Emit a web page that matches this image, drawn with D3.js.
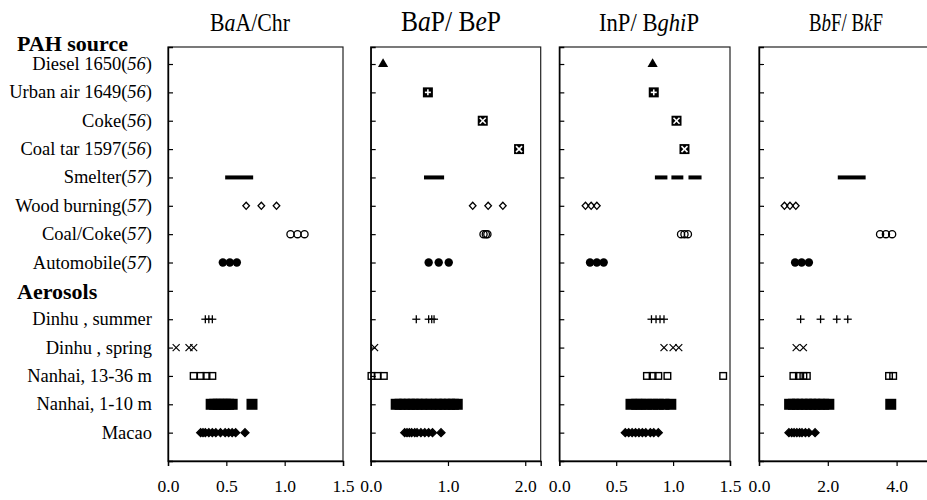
<!DOCTYPE html>
<html>
<head>
<meta charset="utf-8">
<script src="https://cdn.jsdelivr.net/npm/d3@7"></script>
<style>
  body { margin: 0; background: #fff; }
  text { font-family: "Liberation Serif", "Times New Roman", serif; fill: #000; }
</style>
</head>
<body>
<div id="chart"></div>
<script>
// row labels (top to bottom), [name, reference]
const sourceRows = [
  ["Diesel 1650", "56"], ["Urban air 1649", "56"], ["Coke", "56"], ["Coal tar 1597", "56"],
  ["Smelter", "57"], ["Wood burning", "57"], ["Coal/Coke", "57"], ["Automobile", "57"]
];
const aerosolRows = ["Dinhu , summer", "Dinhu , spring", "Nanhai, 13-36 m", "Nanhai, 1-10 m", "Macao"];

// panel titles, [text, italic?] pieces
const titles = [
  [["B", 0], ["a", 1], ["A/Chr", 0]],
  [["B", 0], ["a", 1], ["P/ B", 0], ["e", 1], ["P", 0]],
  [["InP/ B", 0], ["ghi", 1], ["P", 0]],
  [["B", 0], ["b", 1], ["F/ B", 0], ["k", 1], ["F", 0]]
];
const xDomains = [[0, 1.5], [0, 2.2], [0, 1.5], [0, 5]];
const xTicks = [[0, 0.5, 1, 1.5], [0, 1, 2], [0, 0.5, 1, 1.5], [0, 2, 4]];

// ratio values, one list per panel
const diesel = [[], [0.16], [0.82], []];
const urbanAir = [[], [0.74], [0.83], []];
const coke = [[], [1.45], [1.03], []];
const coalTar = [[], [1.92], [1.1], []];
const smelter = [[[0.49, 0.73]], [[0.69, 0.95]], [[0.84, 0.95], [0.985, 1.09], [1.135, 1.25]], [[2.29, 3.1]]];
const woodBurning = [[0.67, 0.8, 0.93], [1.32, 1.52, 1.71], [0.23, 0.28, 0.33], [0.74, 0.9, 1.07]];
const coalCoke = [[1.05, 1.11, 1.17], [1.46, 1.49, 1.51], [1.07, 1.1, 1.13], [3.52, 3.69, 3.87]];
const automobile = [[0.47, 0.53, 0.59], [0.75, 0.88, 1.01], [0.27, 0.33, 0.39], [1.05, 1.24, 1.45]];
const dinhuSummer = [[0.32, 0.35, 0.38], [0.59, 0.75, 0.79, 0.82], [0.81, 0.85, 0.885, 0.92], [1.21, 1.79, 2.26, 2.58]];
const dinhuSpring = [[0.07, 0.18, 0.22], [0.05], [0.92, 1.0, 1.05], [1.08, 1.29]];
const nanhaiDeep = [[0.22, 0.28, 0.33, 0.38], [0.01, 0.09, 0.17], [0.77, 0.82, 0.87, 0.95, 1.44], [1.0, 1.16, 1.29, 1.39, 3.78, 3.9]];
const nanhaiShallow = [
  [0.37, 0.4, 0.43, 0.46, 0.49, 0.52, 0.55, 0.72],
  [0.33, 0.38, 0.44, 0.5, 0.55, 0.6, 0.66, 0.72, 0.78, 0.85, 0.9, 0.96, 1.02, 1.07, 1.12],
  [0.63, 0.68, 0.72, 0.77, 0.82, 0.87, 0.92, 0.98],
  [0.89, 1.0, 1.12, 1.25, 1.38, 1.5, 1.62, 1.75, 1.88, 2.03, 3.83]
];
const macao = [
  [0.28, 0.3, 0.32, 0.35, 0.38, 0.41, 0.45, 0.49, 0.52, 0.55, 0.58, 0.66],
  [0.44, 0.47, 0.5, 0.53, 0.57, 0.6, 0.65, 0.7, 0.75, 0.8, 0.91],
  [0.58, 0.61, 0.64, 0.67, 0.7, 0.73, 0.76, 0.8, 0.83, 0.87],
  [0.87, 0.95, 1.02, 1.1, 1.18, 1.25, 1.35, 1.45, 1.63]
];

const series = [
  { row: 0, values: diesel, shape: "triangle" },
  { row: 1, values: urbanAir, shape: "boxPlus" },
  { row: 2, values: coke, shape: "boxCross" },
  { row: 3, values: coalTar, shape: "boxCross" },
  { row: 4, values: smelter, shape: "bar" },
  { row: 5, values: woodBurning, shape: "diamondOpen" },
  { row: 6, values: coalCoke, shape: "circleOpen" },
  { row: 7, values: automobile, shape: "circleFilled" },
  { row: 9, values: dinhuSummer, shape: "plus" },
  { row: 10, values: dinhuSpring, shape: "cross" },
  { row: 11, values: nanhaiDeep, shape: "squareOpen" },
  { row: 12, values: nanhaiShallow, shape: "squareFilled" },
  { row: 13, values: macao, shape: "diamondFilled" }
];

const width = 927, height = 500;
const panelX = [[168, 343], [370.7, 540.7], [559.3, 730], [759, 931]];
const titleCenters = [250, 451, 649, 846];
const titleWidths = [80, 100, 100, 74];
const titleSizes = [26, 29, 26, 25];
const plotTop = 47, plotBottom = 461;

const svg = d3.select("#chart").append("svg")
  .attr("width", width)
  .attr("height", height);

const y = d3.scaleLinear().domain([-0.6, 14]).range([plotTop, plotBottom]);

// row labels
const rowLabels = svg.append("g").attr("font-size", 18.5).attr("text-anchor", "end");
sourceRows.forEach((d, i) => {
  const t = rowLabels.append("text").attr("x", 152).attr("y", y(i) + 6);
  t.append("tspan").text(d[0] + "(");
  t.append("tspan").attr("font-style", "italic").text(d[1]);
  t.append("tspan").text(")");
});
aerosolRows.forEach((d, i) => {
  rowLabels.append("text").attr("x", 152).attr("y", y(i + 9) + 6).text(d);
});
svg.append("text").attr("x", 17).attr("y", y(-0.75) + 8)
  .attr("font-size", 22).attr("font-weight", "bold").text("PAH source");
svg.append("text").attr("x", 17).attr("y", y(8) + 8)
  .attr("font-size", 22).attr("font-weight", "bold").text("Aerosols");

function drawMark(g, shape, cx, cy) {
  if (shape === "triangle") {
    g.append("path").attr("transform", `translate(${cx},${cy})`)
      .attr("d", d3.symbol(d3.symbolTriangle, 45)());
  } else if (shape === "boxPlus" || shape === "boxCross") {
    g.append("rect").attr("x", cx - 5).attr("y", cy - 5).attr("width", 10).attr("height", 10);
    const s = shape === "boxPlus" ? [[-3, 0, 3, 0], [0, -3, 0, 3]] : [[-3, -3, 3, 3], [-3, 3, 3, -3]];
    s.forEach(l => g.append("line")
      .attr("x1", cx + l[0]).attr("y1", cy + l[1]).attr("x2", cx + l[2]).attr("y2", cy + l[3])
      .attr("stroke", "#fff").attr("stroke-width", 1.6));
  } else if (shape === "diamondOpen" || shape === "diamondFilled") {
    const w = shape === "diamondOpen" ? 3.3 : 4, h = shape === "diamondOpen" ? 3.6 : 4;
    g.append("path")
      .attr("d", `M${cx},${cy - h}L${cx + w},${cy}L${cx},${cy + h}L${cx - w},${cy}Z`)
      .attr("fill", shape === "diamondOpen" ? "none" : "#000")
      .attr("stroke", "#000").attr("stroke-width", 1.3);
  } else if (shape === "circleOpen") {
    g.append("circle").attr("cx", cx).attr("cy", cy).attr("r", 3.6)
      .attr("fill", "none").attr("stroke", "#000").attr("stroke-width", 1.3);
  } else if (shape === "circleFilled") {
    g.append("circle").attr("cx", cx).attr("cy", cy).attr("r", 4.2);
  } else if (shape === "plus") {
    [[-4, 0, 4, 0], [0, -4, 0, 4]].forEach(l => g.append("line")
      .attr("x1", cx + l[0]).attr("y1", cy + l[1]).attr("x2", cx + l[2]).attr("y2", cy + l[3])
      .attr("stroke", "#000").attr("stroke-width", 1.3));
  } else if (shape === "cross") {
    [[-3.5, -3.5, 3.5, 3.5], [-3.5, 3.5, 3.5, -3.5]].forEach(l => g.append("line")
      .attr("x1", cx + l[0]).attr("y1", cy + l[1]).attr("x2", cx + l[2]).attr("y2", cy + l[3])
      .attr("stroke", "#000").attr("stroke-width", 1.2));
  } else if (shape === "squareOpen") {
    g.append("rect").attr("x", cx - 3.3).attr("y", cy - 3.3).attr("width", 6.6).attr("height", 6.6)
      .attr("fill", "none").attr("stroke", "#000").attr("stroke-width", 1.4);
  } else if (shape === "squareFilled") {
    g.append("rect").attr("x", cx - 5.5).attr("y", cy - 5.5).attr("width", 11).attr("height", 11);
  }
}

titles.forEach((title, p) => {
  const x = d3.scaleLinear().domain(xDomains[p]).range(panelX[p]);
  const g = svg.append("g");

  // frame
  g.append("rect")
    .attr("x", x.range()[0]).attr("y", plotTop)
    .attr("width", x.range()[1] - x.range()[0]).attr("height", plotBottom - plotTop)
    .attr("fill", "none").attr("stroke", "#222").attr("stroke-width", 1.2);

  // x axis
  const xAxis = g.append("g").attr("transform", `translate(0,${plotBottom})`)
    .call(d3.axisBottom(x).tickValues(xTicks[p]).tickFormat(d3.format(".1f")).tickSize(5).tickPadding(14));
  xAxis.select(".domain").attr("stroke-width", 1.4);
  xAxis.selectAll(".tick line").attr("stroke-width", 1.2);
  xAxis.selectAll("text").attr("font-family", "Liberation Serif").attr("font-size", 17.5);

  // y axis ticks, inward
  const yAxis = g.append("g").attr("transform", `translate(${x.range()[0]},0)`)
    .call(d3.axisLeft(y).tickValues(d3.range(14)).tickSize(-5).tickFormat(""));
  yAxis.select(".domain").attr("stroke-width", 1.4);
  yAxis.selectAll(".tick line").attr("stroke-width", 1.2);

  // title, squeezed horizontally like the original
  const t = svg.append("text")
    .attr("text-anchor", "middle")
    .attr("font-size", titleSizes[p]);
  title.forEach(s => t.append("tspan").attr("font-style", s[1] ? "italic" : "normal").text(s[0]));
  const natural = t.node().getComputedTextLength();
  t.attr("transform", `translate(${titleCenters[p]},31) scale(${titleWidths[p] / natural},1)`);

  // marks
  const marks = g.append("g").attr("fill", "#000");
  series.forEach(s => {
    const cy = y(s.row);
    s.values[p].forEach(v => {
      if (s.shape === "bar") {
        marks.append("line")
          .attr("x1", x(v[0])).attr("x2", x(v[1]))
          .attr("y1", cy).attr("y2", cy)
          .attr("stroke", "#000").attr("stroke-width", 4);
      } else {
        drawMark(marks, s.shape, x(v), cy);
      }
    });
  });
});
</script>
</body>
</html>
